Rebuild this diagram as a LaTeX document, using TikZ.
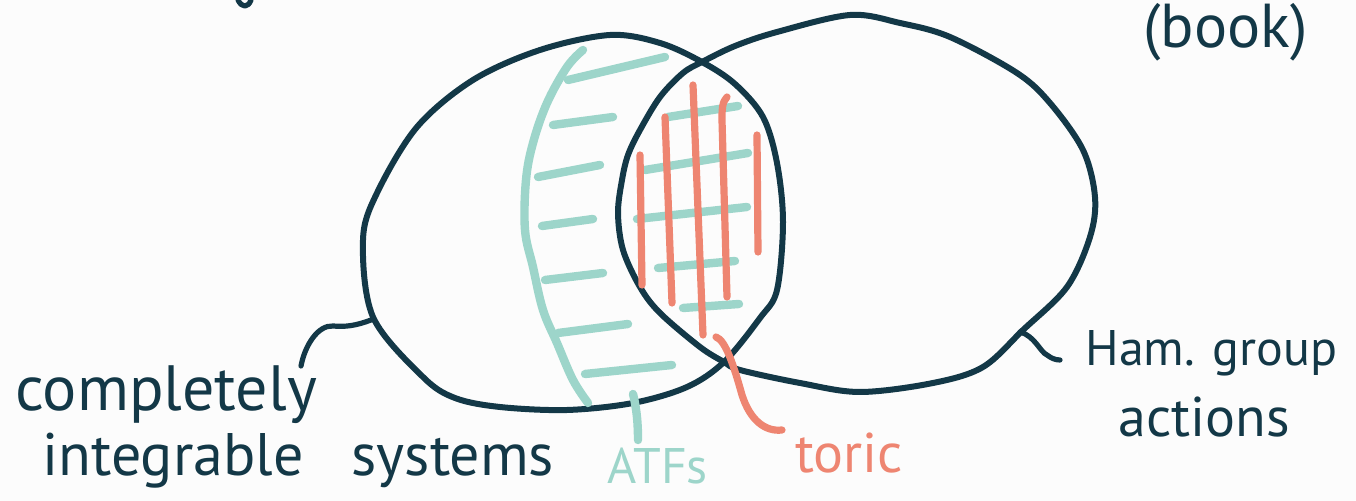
\documentclass[tikz,border=0pt]{standalone}
\usepackage{fontspec}
\setmainfont{PT Sans}
\definecolor{ink}{HTML}{133847}
\definecolor{atf}{HTML}{9DD5CA}
\definecolor{tor}{HTML}{EE8571}
\definecolor{paper}{HTML}{FCFCFC}
\begin{document}
\begin{tikzpicture}[x=0.5pt,y=-0.5pt,line cap=round,line join=round]
\tikzset{
  setline/.style={draw=ink,line width=3pt},
  leader/.style={draw=ink,line width=2.6pt},
  hatch/.style={draw=atf,line width=4.2pt},
  grid/.style={draw=tor,line width=3.6pt},
  hand/.style={inner sep=0pt,anchor=base west,text=ink},
}
\fill[paper] (0,0) rectangle (1356,501);
\useasboundingbox (0,0) rectangle (1356,501);

% the two sets
\draw[setline] plot[smooth cycle,tension=0.55] coordinates {
  (610,35) (660,43) (702,62) (735,84) (763,117) (777,163) (783,222)
  (777,290) (760,318) (724,362) (687,387) (633,403) (567,410) (500,407)
  (455,398) (423,377) (373,317) (363,240) (377,193) (417,127) (473,80) (540,50)};
\draw[setline] plot[smooth cycle,tension=0.55] coordinates {
  (702,62) (735,46) (777,32) (850,15) (900,23) (950,37) (1017,73) (1050,103)
  (1083,150) (1095,197) (1090,237) (1067,287) (1023,330) (983,367) (933,383)
  (860,392) (800,383) (740,370) (724,362) (700,347) (660,313) (640,287)
  (623,250) (618,213) (622,180) (628,155) (640,130) (660,97) (683,73)};

% stray stroke at the top edge
\draw[leader] (238,0) .. controls (242,8) and (248,8) .. (251,0);

% labels
\node[hand,font=\fontsize{32}{32}\selectfont] (cis1) at (15,411) {completely};
\node[hand,font=\fontsize{30}{30}\selectfont] (cis2) at (42,476) {integrable\hspace{24pt}systems};
\node[hand,font=\fontsize{25}{25}\selectfont] (ham1) at (1085,366) {Ham. group};
\node[hand,font=\fontsize{28}{28}\selectfont] (ham2) at (1118,437) {actions};
\node[hand,font=\fontsize{31}{31}\selectfont] (book) at (1143,48) {(book)};
\node[hand,text=tor,font=\fontsize{28}{28}\selectfont] (toric) at (795,473) {toric};
\node[hand,text=atf,font=\fontsize{25}{25}\selectfont] (atfs) at (607,484) {ATFs};

% leaders
\coordinate (cisA) at (371,320);
\coordinate (cisB) at (301,366);
\draw[leader] (cisA) .. controls (355,326) and (345,327) .. (333,326)
  .. controls (318,325) and (305,345) .. (cisB);
\coordinate (hamA) at (1020,332);
\coordinate (hamB) at (1060,360);
\draw[leader] (hamA) .. controls (1035,336) and (1040,352) .. (1047,355)
  .. controls (1051,358) and (1055,360) .. (hamB);

% ATF region: boundary and hatching
\draw[hatch] plot[smooth,tension=0.6] coordinates {
  (583,50) (567,67) (547,103) (533,143) (526,180) (525,230) (533,267)
  (543,310) (557,343) (573,380) (588,403)};
\draw[hatch] (568,80) -- (665,57);
\draw[hatch] (553,125) -- (613,117);
\draw[hatch] (538,177) -- (600,165);
\draw[hatch] (542,226) -- (593,219);
\draw[hatch] (545,280) -- (603,273);
\draw[hatch] (558,333) -- (628,324);
\draw[hatch] (585,374) -- (672,365);
\draw[hatch] (668,117) -- (738,106);
\draw[hatch] (645,170) -- (748,153);
\draw[hatch] (637,219) -- (747,207);
\draw[hatch] (658,268) -- (735,261);
\draw[hatch] (683,308) -- (739,304);
\coordinate (atfA) at (633,394);
\coordinate (atfB) at (638,440);
\draw[hatch] (atfA) .. controls (637,410) and (638,425) .. (atfB);

% toric region: vertical strokes
\draw[grid] (640,155) -- (642,285);
\draw[grid] (665,117) -- (672,303);
\draw[grid] (693,85) -- (703,335);
\draw[grid] (727,97) .. controls (722,102) and (722,110) .. (722,120) -- (727,297);
\draw[grid] (757,135) -- (758,252);
\coordinate (torA) at (716,337);
\coordinate (torB) at (782,430);
\draw[grid] (torA) .. controls (726,340) and (735,370) .. (742,395)
  .. controls (750,420) and (765,432) .. (torB);
\end{tikzpicture}
\end{document}
